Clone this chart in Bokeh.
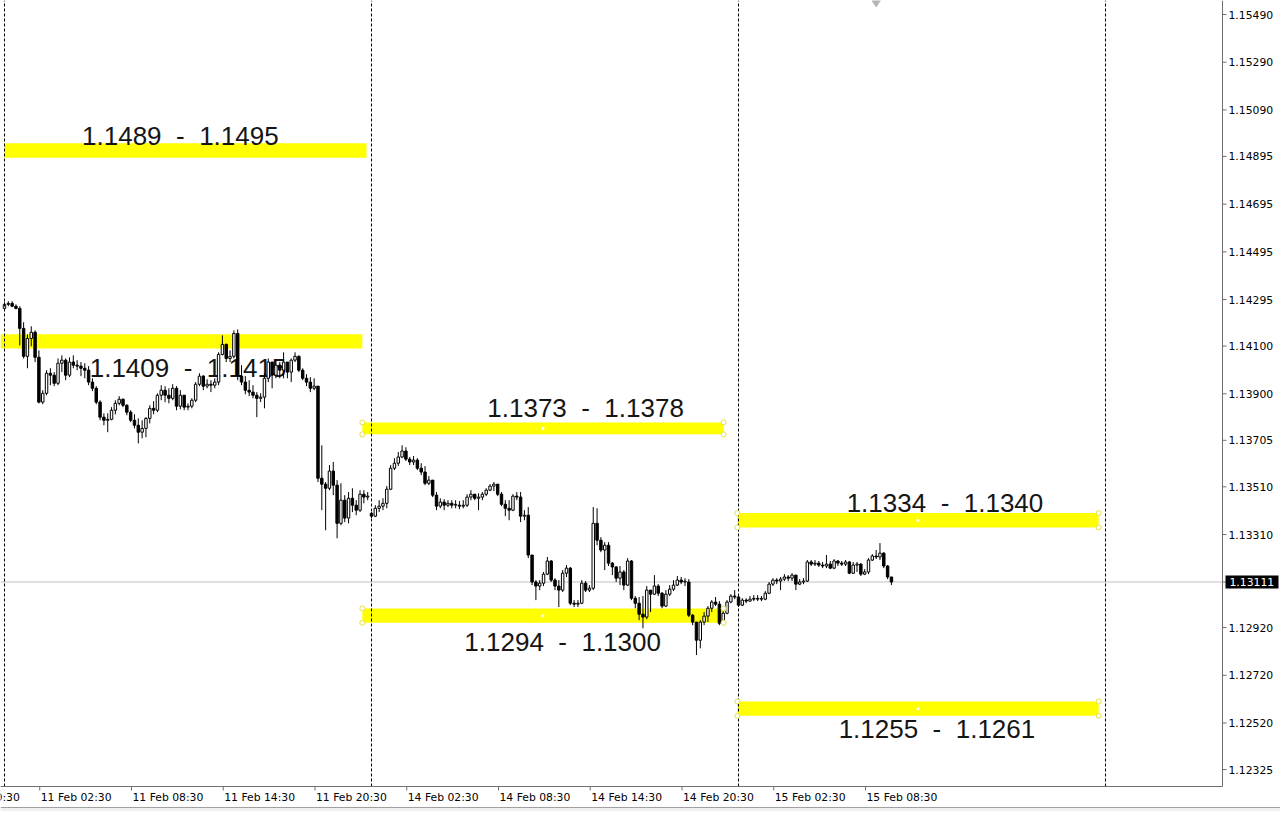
from bokeh.plotting import figure
from bokeh.models import ColumnDataSource, Range1d
from bokeh.core.properties import value
from bokeh.embed import file_html
from bokeh.resources import INLINE

# ---------------- data (EURUSD, M15 bars) ----------------
# bar index 0 = 11 Feb 00:00, 96 = 14 Feb 00:00, 192 = 15 Feb 00:00, 288 = 16 Feb 00:00
day_separator_bars = [0, 96, 192, 288]
session_open = {0: 1.14258, 96: 1.13399}

close_11feb = [1.14275, 1.14279, 1.14267, 1.14258, 1.14174, 1.14057, 1.14132, 1.14158, 1.14053, 1.13865,
               1.13902, 1.13986, 1.13978, 1.13944, 1.14028, 1.14041, 1.13978, 1.14033, 1.14020, 1.14016,
               1.14007, 1.13999, 1.13949, 1.13923, 1.13865, 1.13802, 1.13789, 1.13793, 1.13831, 1.13860,
               1.13877, 1.13852, 1.13823, 1.13789, 1.13768, 1.13739, 1.13755, 1.13797, 1.13839, 1.13831,
               1.13894, 1.13915, 1.13894, 1.13881, 1.13923, 1.13848, 1.13894, 1.13844, 1.13848, 1.13873,
               1.13940, 1.13974, 1.13932, 1.13940, 1.13936, 1.13949, 1.14065, 1.14107, 1.14048, 1.14057,
               1.14153, 1.13974, 1.13949, 1.13915, 1.13907, 1.13894, 1.13881, 1.13886, 1.13965, 1.14033,
               1.13978, 1.14020, 1.13999, 1.14033, 1.13991, 1.14041, 1.14057, 1.13999, 1.13965, 1.13949,
               1.13923, 1.13932, 1.13546, 1.13521, 1.13504, 1.13576, 1.13517, 1.13357, 1.13454, 1.13379,
               1.13462, 1.13433, 1.13412, 1.13479, 1.13467, 1.13471]
high_11feb = [1.14284, 1.14288, 1.14288, 1.14275, 1.14267, 1.14200, 1.14149, 1.14183, 1.14166, 1.14082,
              1.13915, 1.13999, 1.14007, 1.13991, 1.14048, 1.14061, 1.14048, 1.14053, 1.14061, 1.14041,
              1.14033, 1.14028, 1.14016, 1.13965, 1.13932, 1.13873, 1.13818, 1.13818, 1.13844, 1.13873,
              1.13890, 1.13881, 1.13856, 1.13831, 1.13814, 1.13797, 1.13789, 1.13802, 1.13852, 1.13869,
              1.13902, 1.13936, 1.13932, 1.13923, 1.13940, 1.13932, 1.13915, 1.13894, 1.13860, 1.13881,
              1.13949, 1.13986, 1.13978, 1.13961, 1.13957, 1.13965, 1.14074, 1.14145, 1.14111, 1.14082,
              1.14166, 1.14170, 1.14020, 1.13974, 1.13957, 1.13936, 1.13907, 1.13902, 1.13986, 1.14048,
              1.14033, 1.14041, 1.14033, 1.14074, 1.14033, 1.14048, 1.14074, 1.14061, 1.14007, 1.13982,
              1.13970, 1.13965, 1.13932, 1.13684, 1.13530, 1.13601, 1.13614, 1.13538, 1.13525, 1.13475,
              1.13488, 1.13504, 1.13454, 1.13496, 1.13496, 1.13488]
low_11feb = [1.14250, 1.14267, 1.14263, 1.14254, 1.14103, 1.14048, 1.14007, 1.14099, 1.14033, 1.13860,
             1.13856, 1.13894, 1.13936, 1.13932, 1.13936, 1.13991, 1.13957, 1.13970, 1.14007, 1.13999,
             1.13974, 1.13965, 1.13936, 1.13911, 1.13856, 1.13789, 1.13768, 1.13739, 1.13789, 1.13814,
             1.13852, 1.13844, 1.13810, 1.13781, 1.13755, 1.13692, 1.13713, 1.13718, 1.13776, 1.13814,
             1.13823, 1.13873, 1.13865, 1.13860, 1.13873, 1.13831, 1.13835, 1.13831, 1.13831, 1.13839,
             1.13865, 1.13932, 1.13915, 1.13923, 1.13907, 1.13923, 1.13936, 1.14061, 1.14033, 1.14033,
             1.14048, 1.13957, 1.13936, 1.13898, 1.13890, 1.13881, 1.13802, 1.13865, 1.13839, 1.13949,
             1.13923, 1.13965, 1.13965, 1.13965, 1.13965, 1.13949, 1.14033, 1.13991, 1.13957, 1.13932,
             1.13907, 1.13915, 1.13530, 1.13412, 1.13328, 1.13496, 1.13475, 1.13294, 1.13349, 1.13362,
             1.13357, 1.13404, 1.13391, 1.13404, 1.13441, 1.13454]

close_14feb = [1.13387, 1.13420, 1.13429, 1.13441, 1.13500, 1.13588, 1.13609, 1.13635, 1.13660, 1.13626,
               1.13614, 1.13622, 1.13588, 1.13572, 1.13525, 1.13538, 1.13475, 1.13429, 1.13446, 1.13433,
               1.13441, 1.13433, 1.13433, 1.13429, 1.13433, 1.13467, 1.13479, 1.13462, 1.13467, 1.13479,
               1.13496, 1.13513, 1.13521, 1.13479, 1.13437, 1.13420, 1.13412, 1.13471, 1.13467, 1.13387,
               1.13391, 1.13224, 1.13111, 1.13094, 1.13106, 1.13144, 1.13199, 1.13119, 1.13094, 1.13077,
               1.13148, 1.13169, 1.13022, 1.13018, 1.13022, 1.13106, 1.13077, 1.13085, 1.13357, 1.13286,
               1.13245, 1.13265, 1.13190, 1.13174, 1.13127, 1.13153, 1.13098, 1.13199, 1.13043, 1.13022,
               1.12976, 1.12964, 1.13077, 1.13060, 1.13094, 1.13064, 1.13010, 1.13060, 1.13081, 1.13098,
               1.13119, 1.13111, 1.13111, 1.12972, 1.12943, 1.12867, 1.12943, 1.12968, 1.13001, 1.13027,
               1.13018, 1.12938, 1.12980, 1.13027, 1.13052, 1.13048]
high_14feb = [1.13404, 1.13433, 1.13454, 1.13462, 1.13513, 1.13601, 1.13630, 1.13656, 1.13684, 1.13676,
              1.13635, 1.13639, 1.13630, 1.13609, 1.13597, 1.13555, 1.13538, 1.13488, 1.13462, 1.13458,
              1.13454, 1.13454, 1.13454, 1.13450, 1.13454, 1.13479, 1.13496, 1.13479, 1.13483, 1.13488,
              1.13504, 1.13521, 1.13530, 1.13521, 1.13488, 1.13454, 1.13454, 1.13479, 1.13488, 1.13488,
              1.13412, 1.13425, 1.13224, 1.13119, 1.13119, 1.13153, 1.13216, 1.13203, 1.13127, 1.13119,
              1.13161, 1.13182, 1.13174, 1.13035, 1.13035, 1.13119, 1.13115, 1.13098, 1.13425, 1.13420,
              1.13299, 1.13278, 1.13278, 1.13195, 1.13178, 1.13178, 1.13161, 1.13211, 1.13203, 1.13052,
              1.13048, 1.13052, 1.13094, 1.13077, 1.13140, 1.13102, 1.13069, 1.13077, 1.13098, 1.13119,
              1.13136, 1.13132, 1.13127, 1.13123, 1.12976, 1.12943, 1.12951, 1.12985, 1.13010, 1.13035,
              1.13048, 1.13031, 1.12993, 1.13035, 1.13060, 1.13077]
low_14feb = [1.13379, 1.13383, 1.13404, 1.13412, 1.13420, 1.13496, 1.13580, 1.13597, 1.13630, 1.13618,
             1.13601, 1.13601, 1.13580, 1.13559, 1.13517, 1.13517, 1.13467, 1.13412, 1.13420, 1.13412,
             1.13425, 1.13420, 1.13420, 1.13416, 1.13420, 1.13425, 1.13454, 1.13454, 1.13412, 1.13454,
             1.13471, 1.13492, 1.13492, 1.13471, 1.13429, 1.13387, 1.13370, 1.13408, 1.13454, 1.13362,
             1.13370, 1.13211, 1.13098, 1.13035, 1.13077, 1.13094, 1.13140, 1.13111, 1.13077, 1.13006,
             1.13069, 1.13132, 1.13014, 1.13006, 1.13006, 1.13018, 1.13069, 1.13069, 1.13077, 1.13265,
             1.13236, 1.13161, 1.13178, 1.13140, 1.13111, 1.13098, 1.13077, 1.13094, 1.13035, 1.13001,
             1.12951, 1.12917, 1.12955, 1.12985, 1.13056, 1.13052, 1.13001, 1.13006, 1.13052, 1.13073,
             1.13094, 1.13102, 1.13094, 1.12964, 1.12930, 1.12805, 1.12833, 1.12930, 1.12943, 1.12985,
             1.13010, 1.12930, 1.12930, 1.12976, 1.13022, 1.13039]

close_15feb = [1.13014, 1.13035, 1.13031, 1.13039, 1.13039, 1.13039, 1.13039, 1.13064, 1.13102, 1.13119,
               1.13115, 1.13123, 1.13132, 1.13127, 1.13140, 1.13102, 1.13111, 1.13115, 1.13195, 1.13186,
               1.13190, 1.13182, 1.13178, 1.13186, 1.13169, 1.13199, 1.13190, 1.13186, 1.13195, 1.13148,
               1.13182, 1.13186, 1.13144, 1.13153, 1.13203, 1.13220, 1.13216, 1.13232, 1.13178, 1.13132,
               1.13111]
high_15feb = [1.13052, 1.13043, 1.13043, 1.13052, 1.13056, 1.13056, 1.13052, 1.13073, 1.13111, 1.13127,
              1.13127, 1.13132, 1.13144, 1.13140, 1.13148, 1.13140, 1.13123, 1.13127, 1.13203, 1.13203,
              1.13203, 1.13199, 1.13195, 1.13224, 1.13199, 1.13207, 1.13203, 1.13199, 1.13203, 1.13199,
              1.13195, 1.13195, 1.13190, 1.13165, 1.13211, 1.13228, 1.13245, 1.13274, 1.13236, 1.13182,
              1.13132]
low_15feb = [1.13006, 1.13010, 1.13022, 1.13027, 1.13031, 1.13031, 1.13031, 1.13035, 1.13060, 1.13094,
             1.13102, 1.13077, 1.13115, 1.13115, 1.13115, 1.13077, 1.13098, 1.13102, 1.13111, 1.13178,
             1.13178, 1.13174, 1.13169, 1.13169, 1.13165, 1.13165, 1.13178, 1.13178, 1.13178, 1.13144,
             1.13144, 1.13153, 1.13136, 1.13140, 1.13144, 1.13199, 1.13207, 1.13203, 1.13169, 1.13123,
             1.13098]

last_price = 1.13111

time_tick_labels = ["10 Feb 20:30", "11 Feb 02:30", "11 Feb 08:30", "11 Feb 14:30", "11 Feb 20:30",
                    "14 Feb 02:30", "14 Feb 08:30", "14 Feb 14:30", "14 Feb 20:30",
                    "15 Feb 02:30", "15 Feb 08:30"]
time_tick_bars = [-14, 10, 34, 58, 82, 106, 130, 154, 178, 202, 226]

price_ticks = [1.15490, 1.15290, 1.15090, 1.14895, 1.14695, 1.14495, 1.14295, 1.14100,
               1.13900, 1.13705, 1.13510, 1.13310, 1.12920, 1.12720, 1.12520, 1.12325]

# supply / demand zones
zone_low = [1.1489, 1.1409, 1.1373, 1.1294, 1.1334, 1.1255]
zone_high = [1.1495, 1.1415, 1.1378, 1.1300, 1.1340, 1.1261]
zone_start_bar = [0.0, -1.05, 93.6, 93.6, 191.7, 191.7]
zone_end_bar = [94.7, 93.6, 188.1, 188.1, 286.2, 286.2]
zone_selected = [False, False, True, True, True, True]
zone_label_bar = [46.0, 48.0, 152.0, 146.0, 246.0, 243.9]
zone_label_price = [1.14979, 1.14007, 1.13839, 1.12859, 1.13441, 1.12494]

shift_marker_bar = 228

# ---------------- layout (pixel calibration of the MT4 window) ----------------
W, H = 1280, 811
X0_PX, PX_PER_BAR = 4.0, 3.823          # bar 0 sits at x = 4 px
xpp = 1.0 / PX_PER_BAR                   # bars per pixel
x_start = -X0_PX * xpp
x_end = x_start + W * xpp
upp = (price_ticks[0] - price_ticks[-1]) / (769 - 14)   # price per pixel
y_end = price_ticks[0] + 14 * upp
y_start = y_end - H * upp


def bx(px):
    return x_start + px * xpp


def py(px):
    return y_end - px * upp


AX = bx(1222)      # price-scale line
AY = py(786)       # time-scale line

# ---------------- build candles ----------------
closes = close_11feb + close_14feb + close_15feb
highs = high_11feb + high_14feb + high_15feb
lows = low_11feb + low_14feb + low_15feb
n = len(closes)
bars = list(range(n))
opens = [session_open[i] if i in session_open else closes[i - 1] for i in range(n)]

tops, bottoms, fills = [], [], []
for o, c in zip(opens, closes):
    t, b = max(o, c), min(o, c)
    if t - b < 0.8 * upp:
        t = b + 0.8 * upp
    tops.append(t)
    bottoms.append(b)
    fills.append("white" if c >= o else "black")

src = ColumnDataSource(dict(x=bars, h=highs, l=lows, top=tops, bottom=bottoms, fill=fills))

p = figure(width=W, height=H, x_range=Range1d(x_start, x_end), y_range=Range1d(y_start, y_end),
           output_backend="svg", toolbar_location=None,
           x_axis_location=None, y_axis_location=None,
           min_border=0, background_fill_color="white", border_fill_color="white")
p.outline_line_color = None
p.grid.visible = False

AXIS_COL = "#6f6f6f"
FONT = "DejaVu Sans"
FS = "10.8px"

# bottom status strip
p.quad(left=[x_start], right=[x_end], bottom=[y_start], top=[py(807)],
       fill_color="#f0f0f0", line_color=None)
p.segment(x0=[x_start], x1=[x_end], y0=[py(807)], y1=[py(807)], line_color="#a0a0a0", line_width=1)

# zones
zsrc = ColumnDataSource(dict(left=zone_start_bar, right=zone_end_bar, bottom=zone_low, top=zone_high))
p.quad(left="left", right="right", bottom="bottom", top="top", source=zsrc,
       fill_color="#ffff00", line_color=None)

# zone labels
NB = "\u00a0"
ltxt = [f"{lo:.4f}{NB}{NB}-{NB}{NB}{hi:.4f}" for lo, hi in zip(zone_low, zone_high)]
lsrc = ColumnDataSource(dict(x=zone_label_bar, y=zone_label_price, text=ltxt))
p.text(x="x", y="y", text="text", source=lsrc, text_font=value("Liberation Sans"),
       text_font_size=value("26px"), text_align="center", text_baseline="middle",
       text_color="#151515")

# current price line
p.segment(x0=[x_start], x1=[AX], y0=[last_price], y1=[last_price], line_color="#c0c0c0", line_width=1)

# candles
p.segment(x0="x", y0="l", x1="x", y1="h", source=src, line_color="black", line_width=1)
p.vbar(x="x", width=0.64, top="top", bottom="bottom", source=src,
       fill_color="fill", line_color="black", line_width=1)

# day separators
p.segment(x0=day_separator_bars, x1=day_separator_bars,
          y0=[AY] * len(day_separator_bars), y1=[y_end] * len(day_separator_bars),
          line_color="black", line_width=1, line_dash="3 2")

# selection handles on selected zones
hx, hy, cx, cy = [], [], [], []
for lo, hi, x0, x1, sel in zip(zone_low, zone_high, zone_start_bar, zone_end_bar, zone_selected):
    if sel:
        hx.append((x0 + x1) / 2)
        hy.append((lo + hi) / 2)
        cx += [x0, x0, x1, x1]
        cy += [lo, hi, lo, hi]
p.scatter(x=cx, y=cy, size=5, marker="circle", fill_color="white", line_color="#e6df3a")
p.scatter(x=hx, y=hy, size=3, marker="circle", fill_color="white", line_color=None)

# chart-shift marker
p.scatter(x=[shift_marker_bar], y=[y_end], marker="diamond", size=14,
          fill_color="#b4b4b4", line_color=None)

# ---- price scale (right) ----
p.segment(x0=[AX], x1=[AX], y0=[AY], y1=[y_end], line_color=AXIS_COL, line_width=1)
tick_vals = price_ticks + [last_price]
p.segment(x0=[AX] * len(tick_vals), x1=[AX + 4 * xpp] * len(tick_vals),
          y0=tick_vals, y1=tick_vals, line_color=AXIS_COL, line_width=1)
p.text(x=[AX + 6 * xpp] * len(price_ticks), y=price_ticks,
       text=[f"{t:.5f}" for t in price_ticks], text_font=value(FONT),
       text_font_size=value(FS), text_align="left", text_baseline="middle", text_color="#000000")
# current price box
p.quad(left=[AX + 3 * xpp], right=[AX + 56 * xpp],
       bottom=[last_price - 6.5 * upp], top=[last_price + 6.5 * upp],
       fill_color="black", line_color=None)
p.text(x=[AX + 7 * xpp], y=[last_price], text=[f"{last_price:.5f}"], text_font=value(FONT),
       text_font_size=value(FS), text_align="left", text_baseline="middle", text_color="white")

# ---- time scale (bottom) ----
p.segment(x0=[x_start], x1=[AX], y0=[AY], y1=[AY], line_color=AXIS_COL, line_width=1)
tb = [b - 3 * xpp for b in time_tick_bars]
p.segment(x0=tb, x1=tb, y0=[AY] * len(tb), y1=[AY - 4 * upp] * len(tb),
          line_color=AXIS_COL, line_width=1)
p.text(x=[b - 2 * xpp for b in time_tick_bars], y=[py(797)] * len(time_tick_bars),
       text=time_tick_labels, text_font=value(FONT), text_font_size=value(FS),
       text_align="left", text_baseline="middle", text_color="#000000")

open("out.html", "w").write(file_html(p, INLINE))
